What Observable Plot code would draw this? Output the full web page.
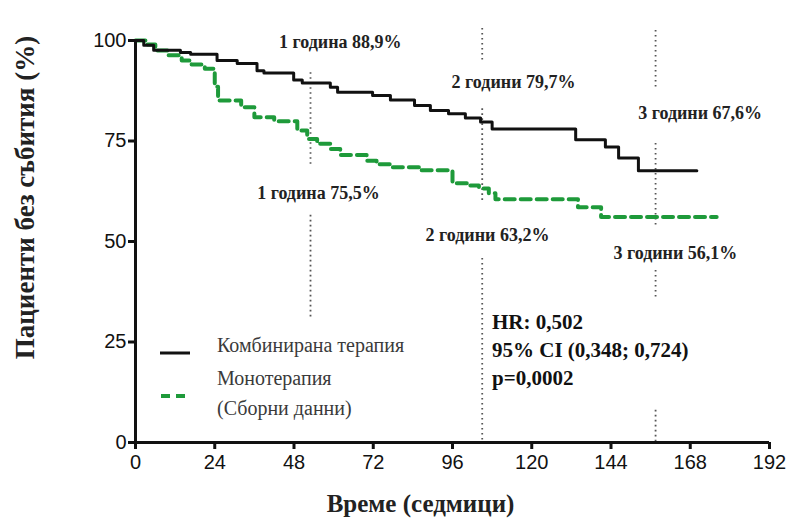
<!DOCTYPE html>
<html><head><meta charset="utf-8">
<script src="https://cdn.jsdelivr.net/npm/d3@7"></script>
<script src="https://cdn.jsdelivr.net/npm/@observablehq/plot@0.6"></script>
<style>
body{margin:0;background:#fff;}
#wrap{position:relative;width:795px;height:523px;overflow:hidden;}
.ov{position:absolute;white-space:nowrap;font-family:"Liberation Serif",serif;}
.leg{font-size:20px;color:#3a3a3a;line-height:24px;}
.stat{font-size:21px;font-weight:bold;color:#111;line-height:24px;}
</style></head><body><div id="wrap"></div>
<script>
// Kaplan–Meier steps
const comboWeeks = [0, 2.5, 5.5, 13.6, 16.7, 24.7, 30.8, 36.8, 38.9, 47.9, 50.5, 59, 61.2, 71.8, 77.2, 84.5, 89.3, 94.8, 99.9, 104.5, 108, 133.3, 142.3, 146.3, 152.3, 170];
const comboSurv  = [100, 98.8, 97.6, 97.0, 96.6, 95.0, 94.3, 92.5, 91.9, 90.2, 89.4, 88.4, 87.1, 86.3, 85.2, 83.8, 82.6, 81.8, 80.7, 79.7, 78.0, 75.3, 73.5, 70.8, 67.6, 67.6];
const monoWeeks  = [0, 3, 6, 10, 14, 17, 21, 24, 25, 32, 36, 42, 49, 52, 55, 59, 62, 70, 73, 77, 86, 96, 101, 104, 107, 109, 134, 141, 176];
const monoSurv   = [100, 99, 97.5, 96.3, 95, 94, 93, 88.5, 85.1, 83.4, 80.9, 79.9, 77.6, 75.5, 74.3, 73, 71.5, 70.1, 69.2, 68.5, 67.7, 64.5, 63.9, 63.2, 62, 60.5, 58.5, 56.1, 56.1];

const xTicks = [0, 24, 48, 72, 96, 120, 144, 168, 192];
const yTicks = [0, 25, 50, 75, 100];

// dotted milestone guides (week, from %, to %)
const segWeek = [53, 53, 105, 105, 105, 157.5, 157.5, 157.5, 157.5];
const segFrom = [92, 56.5, 103, 83, 45.8, 102.5, 74.4, 42.8, 8];
const segTo   = [68.4, 31.1, 95, 59.5, 0, 87.6, 53.5, 36, 0];

// milestone annotations
const annText  = ["1 година 88,9%", "2 години 79,7%", "3 години 67,6%", "1 година 75,5%", "2 години 63,2%", "3 години 56,1%"];
const annWeek  = [62, 114.5, 171, 55.4, 106.6, 163.5];
const annValue = [99.5, 89.6, 81.8, 62, 51.5, 47];

const seriesNames = ["Комбинирана терапия", "Монотерапия", "(Сборни данни)"];
const statLines = ["HR: 0,502", "95% CI (0,348; 0,724)", "p=0,0002"];
const xTitle = "Време (седмици)";
const yTitle = "Пациенти без събития (%)";

const combo = comboWeeks.map((w, i) => ({week: w, surv: comboSurv[i]}));
const mono = monoWeeks.map((w, i) => ({week: w, surv: monoSurv[i]}));
const segs = segWeek.map((w, i) => ({week: w, y1: segFrom[i], y2: segTo[i]}));
const anns = annText.map((t, i) => ({text: t, week: annWeek[i], value: annValue[i]}));

const serif = "Liberation Serif, Times New Roman, serif";
const green = "#1e9a3a";

const chart = Plot.plot({
  width: 795, height: 523,
  marginLeft: 135, marginRight: 26, marginTop: 40, marginBottom: 81,
  style: {fontFamily: "Liberation Sans, Arial, sans-serif", background: "white", overflow: "visible"},
  x: {domain: [0, 192], ticks: xTicks, label: null},
  y: {domain: [0, 100], ticks: yTicks, label: null},
  marks: [
    Plot.ruleX(segs, {x: "week", y1: "y1", y2: "y2", stroke: "#555", strokeWidth: 1.8, strokeDasharray: "1.6,3.4"}),
    Plot.line(mono, {x: "week", y: "surv", curve: "step-after", stroke: green, strokeWidth: 4, strokeDasharray: "10,6"}),
    Plot.line(combo, {x: "week", y: "surv", curve: "step-after", stroke: "#111", strokeWidth: 3}),
    Plot.axisX({ticks: xTicks, tickSize: 7, tickPadding: 5, fontSize: 20, strokeWidth: 3, stroke: "#111", fill: "#111", label: null}),
    Plot.axisY({ticks: yTicks, tickSize: 7, tickPadding: 2, fontSize: 20, strokeWidth: 3, stroke: "#111", fill: "#111", label: null}),
    Plot.ruleY([0], {stroke: "#111", strokeWidth: 3}),
    Plot.ruleX([0], {stroke: "#111", strokeWidth: 3}),
    Plot.text(anns, {x: "week", y: "value", text: "text", fontFamily: serif, fontWeight: "bold", fontSize: 18, fill: "#222"}),
    Plot.text([yTitle], {frameAnchor: "left", rotate: -90, dx: -110, dy: -44, textAnchor: "middle", lineAnchor: "middle", fontFamily: serif, fontWeight: "bold", fontSize: 27, fill: "#222"}),
    Plot.text([xTitle], {frameAnchor: "bottom", dx: -32, dy: 61, textAnchor: "middle", lineAnchor: "middle", fontFamily: serif, fontWeight: "bold", fontSize: 25, fill: "#222"})
  ]
});

const wrap = document.getElementById("wrap");
wrap.appendChild(chart);

function ov(html, cls, left, top) {
  const d = document.createElement("div");
  d.className = "ov " + cls;
  d.style.left = left + "px";
  d.style.top = top + "px";
  d.innerHTML = html;
  wrap.appendChild(d);
}
// legend
ov('<svg width="32" height="6"><line x1="1" y1="3" x2="31" y2="3" stroke="#111" stroke-width="3"/></svg>', "", 159, 342);
ov(seriesNames[0], "leg", 217, 333);
ov('<svg width="32" height="6"><line x1="2" y1="3" x2="31" y2="3" stroke="' + green + '" stroke-width="4" stroke-dasharray="9,6"/></svg>', "", 159, 385);
ov(seriesNames[1], "leg", 217, 366);
ov(seriesNames[2], "leg", 217, 396);
// statistics
statLines.forEach((s, i) => ov(s, "stat", 492, 310 + i * 28));
</script>
</body></html>
